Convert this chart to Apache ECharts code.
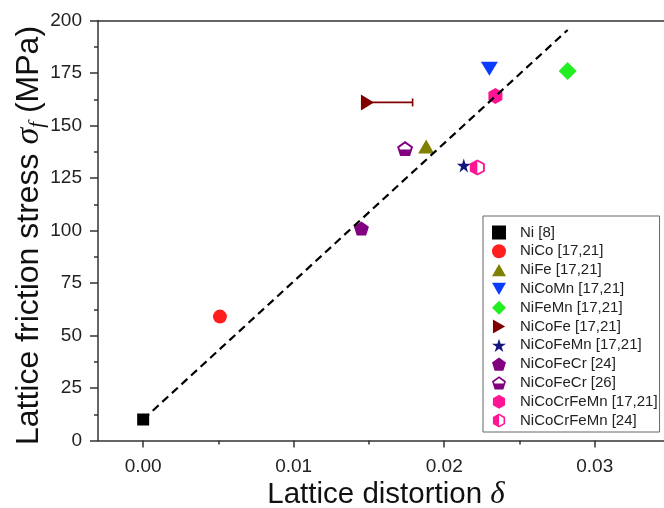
<!DOCTYPE html>
<html><head><meta charset="utf-8">
<script src="https://cdn.jsdelivr.net/npm/echarts@6/dist/echarts.min.js"></script>
<style>html,body{margin:0;padding:0;background:#fff}#c{width:664px;height:508px}</style>
</head><body><div id="c"></div>
<script>
// ---- data ----
const names = ['Ni [8]','NiCo [17,21]','NiFe [17,21]','NiCoMn [17,21]','NiFeMn [17,21]','NiCoFe [17,21]','NiCoFeMn [17,21]','NiCoFeCr [24]','NiCoFeCr [26]','NiCoCrFeMn [17,21]','NiCoCrFeMn [24]'];
const delta  = [0, 0.0051, 0.0188, 0.0230, 0.0282, 0.0149, 0.0213, 0.0145, 0.0174, 0.0234, 0.0222];
const stress = [10, 59, 140, 177, 176, 161, 131, 101, 139, 164, 130];
const nicofeDeltaUpper = 0.0179;           // error bar end for NiCoFe
const fitDelta  = [0, 0.0282];              // dashed guide line ends
const fitStress = [10, 195.5];
const xMajorTicks = [0, 0.01, 0.02, 0.03];
const xMinorTicks = [0.005, 0.015, 0.025];

// ---- styles ----
const colors = ['#000000','#ff1f1f','#808000','#0a3cff','#22ee22','#800000','#151580','#800080','#800080','#ff1493','#ff1493'];
const SYM = {
  square: 'path://M-50,-50L50,-50L50,50L-50,50Z',
  circle: 'circle',
  triUp: 'path://M0,-87L100,87L-100,87Z',
  triDown: 'path://M-100,-87L100,-87L0,87Z',
  diamond: 'path://M0,-100L100,0L0,100L-100,0Z',
  triRight: 'path://M-87,-100L87,0L-87,100Z',
  star: 'path://M0,-100L22.3,-30.7L95.1,-30.9L36.1,11.7L58.8,80.9L0,38L-58.8,80.9L-36.1,11.7L-95.1,-30.9L-22.3,-30.7Z',
  pentagon: 'path://M0,-100L95,-31L59,81L-59,81L-95,-31Z',
  pentHalf: 'path://M0,-100L95,-31L59,81L-59,81L-95,-31ZM0,-72L-68,-22L-61,0L61,0L68,-22Z',
  hexagon: 'path://M0,-100L87,-50L87,50L0,100L-87,50L-87,-50Z',
  hexHalf: 'path://M0,-100L87,-50L87,50L0,100L-87,50L-87,-50ZM0,-75L0,75L65,37.5L65,-37.5Z'
};
const symbols = [SYM.square, SYM.circle, SYM.triUp, SYM.triDown, SYM.diamond, SYM.triRight, SYM.star, SYM.pentagon, SYM.pentHalf, SYM.hexagon, SYM.hexHalf];
const sizes = [[12,12],14,[16,14],[17,14],[18,18],[13,16],[14,14],[15,14],[16,15],[14,16],[15,16]];

const FONT = 'Liberation Sans, Arial, sans-serif';
const SERIF = 'Liberation Serif, Times New Roman, serif';
const axisColor = '#333';
const X_MIN = -0.003, X_MAX = 0.0346;

const chart = echarts.init(document.getElementById('c'), null, {renderer: 'canvas'});

const series = names.map((n, i) => ({
  type: 'scatter', name: n,
  data: [[delta[i], stress[i]]],
  symbol: symbols[i], symbolSize: sizes[i],
  itemStyle: {color: colors[i], opacity: 1},
  z: 3
}));

series.push({
  type: 'custom', name: 'errbar', z: 2,
  encode: {x: [0, 1], y: 2},
  data: [[delta[5], nicofeDeltaUpper, stress[5]]],
  renderItem: function (params, api) {
    const p1 = api.coord([api.value(0), api.value(2)]);
    const p2 = api.coord([api.value(1), api.value(2)]);
    const st = {stroke: colors[5], lineWidth: 1.6};
    return {type: 'group', children: [
      {type: 'line', shape: {x1: p1[0], y1: p1[1], x2: p2[0], y2: p2[1]}, style: st},
      {type: 'line', shape: {x1: p2[0], y1: p2[1] - 4, x2: p2[0], y2: p2[1] + 4}, style: st}
    ]};
  }
});

series.push({
  type: 'line', name: 'fit', z: 5,
  data: fitDelta.map((x, i) => [x, fitStress[i]]),
  symbol: 'none', silent: true,
  lineStyle: {color: '#000', width: 2.2, type: [8, 5]}
});

chart.setOption({
  animation: false,
  backgroundColor: '#fff',
  grid: {left: 98, right: 0, top: 20.5, bottom: 67.5, containLabel: false, outerBoundsMode: 'none'},
  legend: {
    data: names,
    orient: 'vertical',
    left: 483, top: 216,
    itemWidth: 14, itemHeight: 14, itemGap: 3.8,
    symbolKeepAspect: true,
    padding: [9, 2, 4, 9],
    borderColor: '#666', borderWidth: 1, backgroundColor: '#fff',
    textStyle: {fontFamily: FONT, fontSize: 15, color: '#222', lineHeight: 14, padding: [0, 0, 0, 9]},
    selectedMode: false
  },
  xAxis: [
    {
      type: 'value', min: X_MIN, max: X_MAX, position: 'bottom',
      axisLine: {show: true, onZero: false, lineStyle: {color: axisColor, width: 1.5}},
      axisTick: {show: true, inside: false, length: 7, customValues: xMajorTicks, lineStyle: {color: axisColor, width: 1.5}},
      axisLabel: {customValues: xMajorTicks, formatter: v => v.toFixed(2), fontFamily: FONT, fontSize: 19, color: '#222', margin: 17},
      splitLine: {show: false},
      name: '{t|Lattice distortion }{i|δ}',
      nameLocation: 'middle', nameGap: 39, nameMoveOverlap: false,
      nameTextStyle: {padding: [0, 0, 0, 10], rich: {
        t: {fontFamily: FONT, fontSize: 29.5, color: '#111'},
        i: {fontFamily: SERIF, fontStyle: 'italic', fontSize: 31, color: '#111'}
      }}
    },
    {
      type: 'value', min: X_MIN, max: X_MAX, position: 'bottom',
      axisLine: {show: false},
      axisTick: {show: true, inside: false, length: 4, customValues: xMinorTicks, lineStyle: {color: axisColor, width: 1.5}},
      axisLabel: {show: false}, splitLine: {show: false}
    },
    {
      type: 'value', min: X_MIN, max: X_MAX, position: 'top',
      axisLine: {show: true, onZero: false, lineStyle: {color: axisColor, width: 1.5}},
      axisTick: {show: false}, axisLabel: {show: false}, splitLine: {show: false}
    }
  ],
  yAxis: {
    type: 'value', min: 0, max: 200, interval: 25,
    axisLine: {show: true, onZero: false, lineStyle: {color: axisColor, width: 1.5}},
    axisTick: {show: true, inside: false, length: 8, lineStyle: {color: axisColor, width: 1.5}},
    minorTick: {show: true, splitNumber: 2, length: 4, lineStyle: {color: axisColor, width: 1.5}},
    axisLabel: {fontFamily: FONT, fontSize: 19, color: '#222', margin: 16},
    splitLine: {show: false},
    name: '{t|Lattice friction stress }{i|σ}{s|f}{t| (MPa)}',
    nameLocation: 'middle', nameGap: 50, nameMoveOverlap: false,
    nameTextStyle: {padding: [0, 10, 0, 0], rich: {
      t: {fontFamily: FONT, fontSize: 32, color: '#111', lineHeight: 38, verticalAlign: 'middle'},
      i: {fontFamily: SERIF, fontStyle: 'italic', fontSize: 34, color: '#111', lineHeight: 38, verticalAlign: 'middle'},
      s: {fontFamily: SERIF, fontStyle: 'italic', fontSize: 21, color: '#111', lineHeight: 19, verticalAlign: 'bottom'}
    }}
  },
  series: series
});
</script></body></html>
